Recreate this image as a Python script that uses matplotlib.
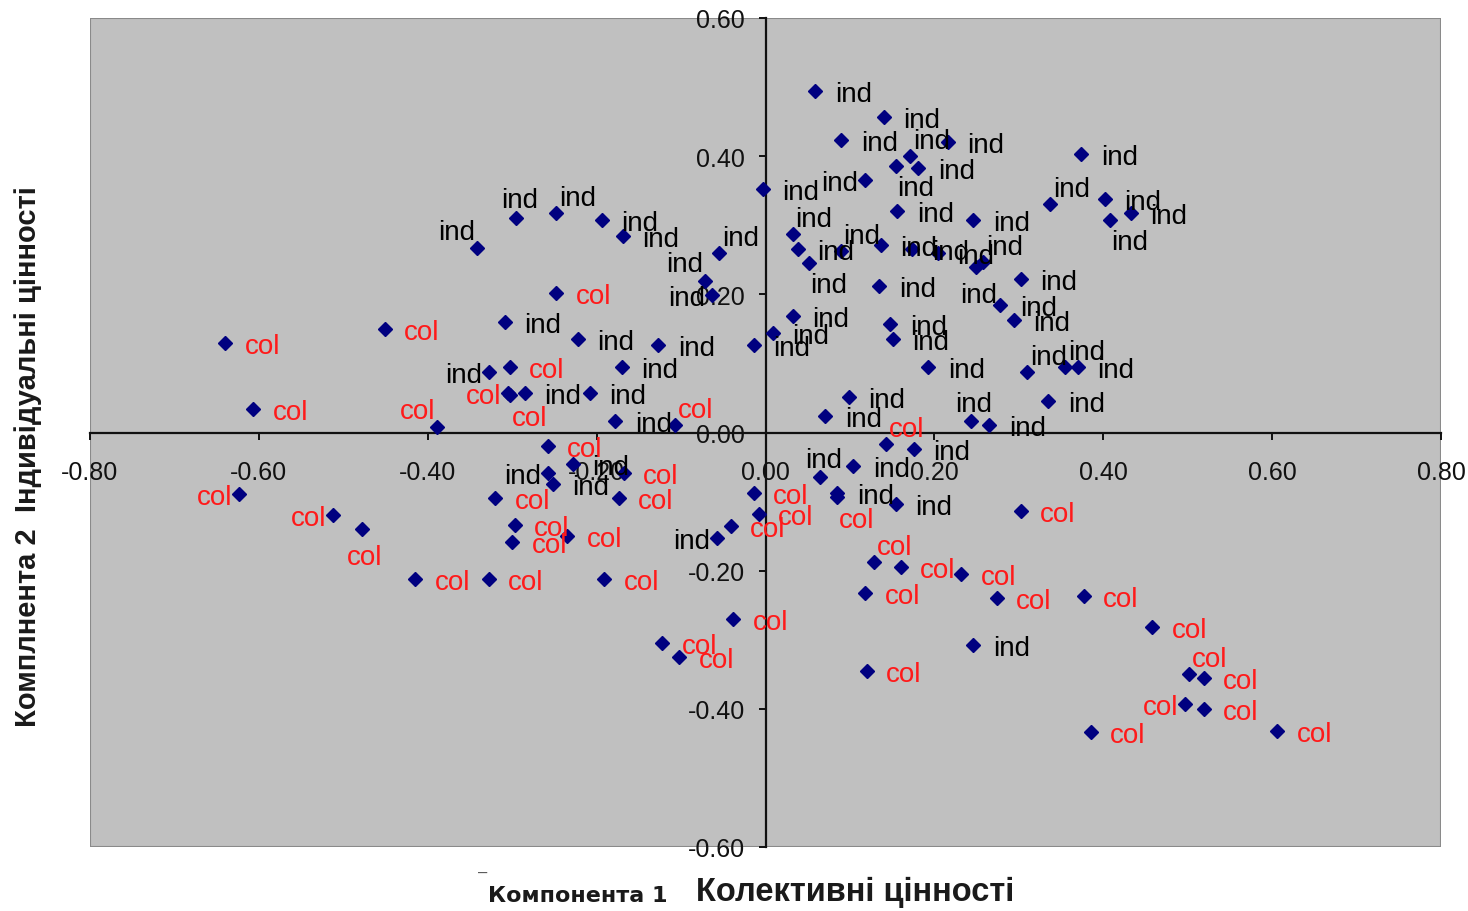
import numpy as np
import matplotlib
matplotlib.use("Agg")
import matplotlib.pyplot as plt
from matplotlib.patches import Rectangle

# component scores (component 1 = collective values, component 2 = individual values)
comp1 = [0.059, 0.140, 0.090, 0.216, 0.171, 0.154, 0.181, 0.118, -0.003, 0.374,
         0.337, 0.402, 0.408, 0.433, 0.156, 0.246, 0.032, 0.038, 0.051, 0.089,
         0.137, 0.174, 0.204, 0.249, 0.258, 0.302, 0.135, 0.278, 0.294, 0.032,
         0.009, 0.148, 0.151, 0.193, 0.310, 0.355, 0.370, 0.335, 0.099, 0.071,
         0.243, 0.265, 0.143, 0.176, 0.065, 0.104, 0.085, 0.085, 0.154,
         -0.342, -0.295, -0.248, -0.194, -0.169, -0.055, -0.072, -0.063, -0.248, -0.451,
         -0.640, -0.309, -0.222, -0.127, -0.014, -0.303, -0.327, -0.170, -0.305, -0.302,
         -0.285, -0.208, -0.607, -0.389, -0.178, -0.107, -0.258, -0.228, -0.258, -0.252,
         -0.168, -0.320, -0.174, -0.297, -0.300, -0.235, -0.623, -0.512, -0.478, -0.415,
         -0.328, -0.191, -0.122, -0.102, -0.038, -0.014, -0.008, -0.041, -0.057,
         0.302, 0.129, 0.160, 0.232, 0.118, 0.274, 0.377, 0.458, 0.502, 0.519,
         0.497, 0.519, 0.385, 0.606, 0.246, 0.120]
comp2 = [0.495, 0.457, 0.424, 0.420, 0.400, 0.386, 0.383, 0.365, 0.352, 0.403,
         0.331, 0.338, 0.308, 0.318, 0.321, 0.307, 0.287, 0.266, 0.246, 0.263,
         0.271, 0.266, 0.260, 0.239, 0.247, 0.222, 0.212, 0.184, 0.163, 0.168,
         0.144, 0.157, 0.136, 0.095, 0.088, 0.095, 0.095, 0.045, 0.052, 0.024,
         0.016, 0.011, -0.017, -0.024, -0.065, -0.048, -0.087, -0.094, -0.104,
         0.267, 0.311, 0.318, 0.308, 0.284, 0.260, 0.220, 0.199, 0.202, 0.150,
         0.130, 0.160, 0.136, 0.127, 0.126, 0.095, 0.088, 0.095, 0.057, 0.054,
         0.057, 0.057, 0.034, 0.008, 0.017, 0.011, -0.019, -0.046, -0.058, -0.075,
         -0.058, -0.095, -0.095, -0.134, -0.158, -0.150, -0.089, -0.120, -0.140, -0.212,
         -0.212, -0.212, -0.305, -0.325, -0.270, -0.088, -0.118, -0.136, -0.153,
         -0.113, -0.188, -0.194, -0.205, -0.233, -0.239, -0.236, -0.281, -0.349, -0.356,
         -0.393, -0.400, -0.434, -0.432, -0.308, -0.345]
groups = ["ind", "ind", "ind", "ind", "ind", "ind", "ind", "ind", "ind", "ind",
          "ind", "ind", "ind", "ind", "ind", "ind", "ind", "ind", "ind", "ind",
          "ind", "ind", "ind", "ind", "ind", "ind", "ind", "ind", "ind", "ind",
          "ind", "ind", "ind", "ind", "ind", "ind", "ind", "ind", "ind", "ind",
          "ind", "ind", "col", "ind", "ind", "ind", "ind", "col", "ind",
          "ind", "ind", "ind", "ind", "ind", "ind", "ind", "ind", "col", "col",
          "col", "ind", "ind", "ind", "ind", "col", "ind", "ind", "col", "col",
          "ind", "ind", "col", "col", "ind", "col", "col", "ind", "ind", "ind",
          "col", "col", "col", "col", "col", "col", "col", "col", "col", "col",
          "col", "col", "col", "col", "col", "col", "col", "col", "ind",
          "col", "col", "col", "col", "col", "col", "col", "col", "col", "col",
          "col", "col", "col", "col", "ind", "col"]

# where each data label sits relative to its marker
label_side = ["r", "r", "r", "r", "ar", "br", "r", "l", "r", "r",
              "ar", "r", "br", "r", "r", "r", "ar", "r", "br", "ar",
              "r", "r", "r", "b", "ar", "r", "r", "r", "r", "r",
              "r", "r", "r", "r", "ar", "ar", "r", "r", "r", "r",
              "a", "r", "ar", "r", "a", "r", "r", "br", "r",
              "al", "a", "ar", "r", "r", "ar", "al", "l", "r", "r",
              "r", "r", "r", "r", "r", "r", "l", "r", "l", "br",
              "r", "r", "r", "al", "r", "ar", "r", "r", "l", "r",
              "r", "r", "r", "r", "r", "r", "l", "l", "b", "r",
              "r", "r", "r", "r", "r", "r", "r", "r", "l",
              "r", "ar", "r", "r", "r", "r", "r", "r", "ar", "r",
              "l", "r", "r", "r", "r", "r"]

x_ticks = [-0.8, -0.6, -0.4, -0.2, 0.0, 0.2, 0.4, 0.6, 0.8]
y_ticks = [-0.6, -0.4, -0.2, 0.0, 0.2, 0.4, 0.6]

FONT = "Liberation Sans"
offsets = {
    "r": ((14, 0), "left"),
    "ar": ((2, 13), "left"),
    "a": ((2, 15), "center"),
    "al": ((-1, 14), "right"),
    "l": ((-5, 0), "right"),
    "b": ((2, -18), "center"),
    "br": ((1, -14), "left"),
}
label_colors = {"ind": "black", "col": "#ff1a1a"}


def tick_text(v):
    return "0.00" if abs(v) < 1e-9 else f"{v:.2f}"


fig = plt.figure(figsize=(14.68, 9.12), dpi=100)
ax = fig.add_axes([90 / 1468, 1 - 848 / 912, 1351 / 1468, 829 / 912])
ax.set_facecolor("#c0c0c0")
ax.set_xlim(-0.8, 0.8)
ax.set_ylim(-0.6, 0.6)

for side in ["top", "right"]:
    ax.spines[side].set_visible(False)
ax.spines["left"].set_position("zero")
ax.spines["bottom"].set_position("zero")
for side in ["left", "bottom"]:
    ax.spines[side].set_linewidth(1.6)
    ax.spines[side].set_color("#111111")
ax.add_patch(Rectangle((0, 0), 1, 1, transform=ax.transAxes, fill=False,
                       edgecolor="#8a8a8a", linewidth=1.5, zorder=0.5))

ax.set_xticks(x_ticks)
ax.set_xticklabels([tick_text(v) for v in x_ticks])
ax.set_yticks(y_ticks)
ax.set_yticklabels([tick_text(v) for v in y_ticks])
ax.tick_params(axis="x", direction="out", length=5, width=1.4, pad=15,
               labelsize=18, colors="#111111")
ax.tick_params(axis="y", direction="out", length=5, width=1.4, pad=10,
               labelsize=18, colors="#111111")
for lab in ax.get_xticklabels() + ax.get_yticklabels():
    lab.set_fontfamily(FONT)

ax.plot(comp1, comp2, linestyle="none", marker="D", markersize=7.6,
        color="#000080", zorder=4, clip_on=False)

for x, y, g, side in zip(comp1, comp2, groups, label_side):
    (dx, dy), ha = offsets[side]
    ax.annotate(g, (x, y), xytext=(dx, dy), textcoords="offset points",
                ha=ha, va="center_baseline", fontsize=20, family=FONT,
                color=label_colors[g], zorder=5)

# axis titles
fig.text(483 / 1468, 1 - 873 / 912, "–", fontsize=12, color="#555555",
         ha="center", va="center", family=FONT)
fig.text(578 / 1468, 1 - 896 / 912, "Компонента 1", fontsize=16,
         fontweight="bold", ha="center", va="center", family="DejaVu Sans",
         color="#1a1a1a")
fig.text(855 / 1468, 1 - 892 / 912, "Колективні цінності", fontsize=23.5,
         fontweight="bold", ha="center", va="center", family=FONT, color="#1a1a1a")
fig.text(28 / 1468, 1 - 457 / 912, "Комплнента 2  Індивідуальні цінності",
         fontsize=21, fontweight="bold", rotation=90, ha="center", va="center",
         family=FONT, color="#1a1a1a")

fig.savefig("out.png", dpi=100, facecolor="white")
